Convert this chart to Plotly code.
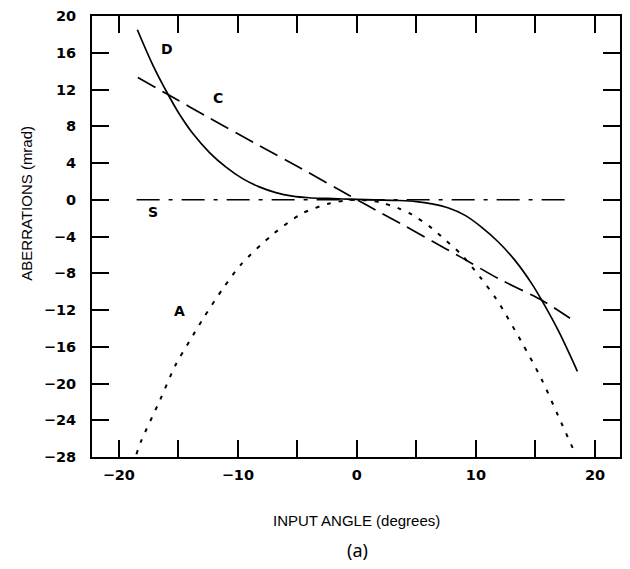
import plotly.graph_objects as go

# Curve D (solid)
d_x = [-18.44, -17.13, -15.87, -14.9, -13.78, -12.38, -10.99, -9.6, -8.2, -6.81, -5.41, -4.02, -2.5, -1.23, 0.0,
       1.5, 3.51, 5.0, 6.3, 7.7, 9.09, 10.49, 11.88, 13.28, 14.67, 15.51, 16.9, 18.52]
d_y = [18.5, 14.63, 11.48, 9.3, 7.2, 5.14, 3.55, 2.3, 1.4, 0.78, 0.4, 0.22, 0.14, 0.08, 0.03,
       -0.02, -0.08, -0.2, -0.45, -0.9, -1.7, -3.0, -4.6, -6.6, -9.1, -10.9, -14.2, -18.67]

# Curve C (long dashes)
c_x = [-18.4, -15.87, -12.4, -8.5, -4.6, -0.67, 1.84, 4.1, 6.3, 8.8, 11.9, 15.5, 17.9]
c_y = [13.3, 11.45, 8.9, 6.1, 3.35, 0.49, -1.3, -2.9, -4.5, -6.3, -8.6, -10.9, -12.9]

# Curve A (dotted)
a_x = [-18.52, -18.1, -16.57, -15.2, -14.06, -12.9, -11.27, -9.7, -7.0, -4.6, -2.3, 0.0,
       2.0, 3.5, 4.6, 6.3, 7.1, 8.8, 10.4, 11.6, 12.1, 13.84, 15.5, 16.9, 18.4]
a_y = [-27.7, -26.2, -21.9, -17.9, -15.4, -12.9, -9.7, -7.0, -3.7, -1.5, -0.4, 0.0,
       -0.3, -0.94, -1.6, -3.1, -4.0, -6.0, -8.5, -10.6, -11.6, -15.5, -19.5, -23.5, -27.8]

# Curve S (dash-dot)
s_x = [-18.5, 17.8]
s_y = [0.0, 0.0]

# Curve labels
label_text = ["D", "C", "S", "A"]
label_x = [-15.96, -11.7, -17.1, -14.9]
label_y = [16.4, 11.1, -1.3, -12.1]

x_tickvals = [-20, -15, -10, -5, 0, 5, 10, 15, 20]
x_ticktext = ["\u221220", "", "\u221210", "", "0", "", "10", "", "20"]

fig = go.Figure()
lw = 1.7
fig.add_trace(go.Scatter(x=d_x, y=d_y, mode="lines", line=dict(color="black", width=lw, shape="spline", smoothing=1.0)))
fig.add_trace(go.Scatter(x=c_x, y=c_y, mode="lines", line=dict(color="black", width=lw, dash="20px,8px", shape="spline", smoothing=0.6)))
fig.add_trace(go.Scatter(x=a_x, y=a_y, mode="lines", line=dict(color="black", width=2, dash="4px,8px", shape="spline", smoothing=0.8)))
fig.add_trace(go.Scatter(x=s_x, y=s_y, mode="lines", line=dict(color="black", width=lw, dash="23px,9px,4px,9px")))

for t, lx, ly in zip(label_text, label_x, label_y):
    fig.add_annotation(x=lx, y=ly, text=t, showarrow=False,
                       font=dict(family="DejaVu Sans", size=14, color="black", weight="bold"))

tick_font = dict(family="DejaVu Sans", size=14.5, color="black", weight="bold")
fig.update_xaxes(range=[-22.25, 22.1], tickvals=x_tickvals, ticktext=x_ticktext,
                 showline=True, linecolor="black", linewidth=2, mirror="ticks",
                 ticks="inside", ticklen=17, tickwidth=2, tickcolor="black",
                 showgrid=False, zeroline=False, tickfont=tick_font, ticklabelstandoff=4)
fig.update_yaxes(range=[-28, 20], dtick=4, tick0=0,
                 showline=True, linecolor="black", linewidth=2, mirror="ticks",
                 ticks="inside", ticklen=17, tickwidth=2, tickcolor="black",
                 showgrid=False, zeroline=False, tickfont=tick_font, ticklabelstandoff=11)

title_font = dict(family="Liberation Sans", size=15, color="black")
fig.add_annotation(xref="paper", yref="paper", x=-0.1245, y=0.575, text="ABERRATIONS (mrad)",
                   textangle=-90, showarrow=False, font=title_font, xanchor="center", yanchor="middle")
fig.add_annotation(xref="paper", yref="paper", x=0.5, y=-0.143, text="INPUT ANGLE (degrees)",
                   showarrow=False, font=title_font, xanchor="center", yanchor="middle")
fig.add_annotation(xref="paper", yref="paper", x=0.503, y=-0.21, text="(a)",
                   showarrow=False, font=dict(family="Noto Sans", size=18, color="black"),
                   xanchor="center", yanchor="middle")

fig.update_layout(width=630, height=569, margin=dict(l=92, r=8, t=10, b=112),
                  paper_bgcolor="white", plot_bgcolor="white", showlegend=False)
fig.write_html("out.html")
